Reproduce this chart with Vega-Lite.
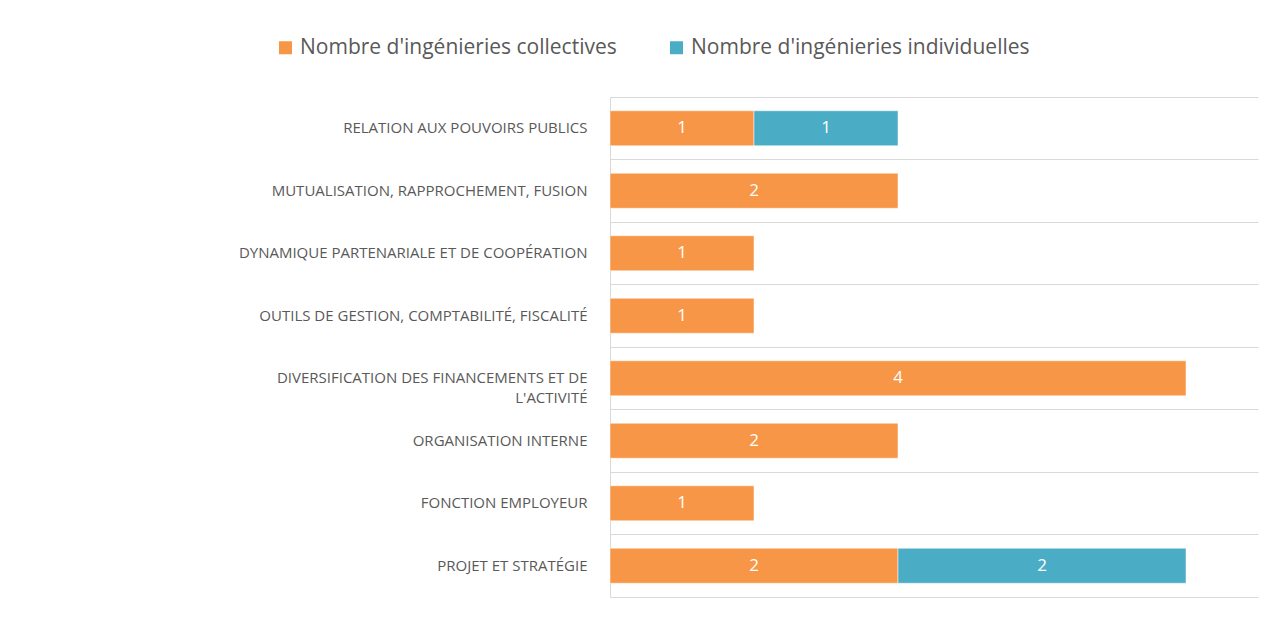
{
  "$schema": "https://vega.github.io/schema/vega-lite/v6.json",
  "autosize": {"type": "none"},
  "padding": {"left": 610, "top": 97, "right": 17, "bottom": 21},
  "width": 648,
  "height": 500,
  "background": "white",
  "config": {
    "view": {"stroke": null},
    "font": "Open Sans"
  },
  "data": {
    "values": [
      {"cat": "RELATION AUX POUVOIRS PUBLICS", "series": "Nombre d'ingénieries collectives", "ord": 1, "v": 1},
      {"cat": "RELATION AUX POUVOIRS PUBLICS", "series": "Nombre d'ingénieries individuelles", "ord": 2, "v": 1},
      {"cat": "MUTUALISATION, RAPPROCHEMENT, FUSION", "series": "Nombre d'ingénieries collectives", "ord": 1, "v": 2},
      {"cat": "DYNAMIQUE PARTENARIALE ET DE COOPÉRATION", "series": "Nombre d'ingénieries collectives", "ord": 1, "v": 1},
      {"cat": "OUTILS DE GESTION, COMPTABILITÉ, FISCALITÉ", "series": "Nombre d'ingénieries collectives", "ord": 1, "v": 1},
      {"cat": "DIVERSIFICATION DES FINANCEMENTS ET DE L'ACTIVITÉ", "series": "Nombre d'ingénieries collectives", "ord": 1, "v": 4},
      {"cat": "ORGANISATION INTERNE", "series": "Nombre d'ingénieries collectives", "ord": 1, "v": 2},
      {"cat": "FONCTION EMPLOYEUR", "series": "Nombre d'ingénieries collectives", "ord": 1, "v": 1},
      {"cat": "PROJET ET STRATÉGIE", "series": "Nombre d'ingénieries collectives", "ord": 1, "v": 2},
      {"cat": "PROJET ET STRATÉGIE", "series": "Nombre d'ingénieries individuelles", "ord": 2, "v": 2}
    ]
  },
  "encoding": {
    "y": {
      "field": "cat",
      "type": "nominal",
      "sort": null,
      "scale": {"paddingInner": 0, "paddingOuter": 0},
      "axis": {
        "title": null,
        "ticks": false,
        "domain": true,
        "domainColor": "#d9d9d9",
        "domainWidth": 1,
        "grid": true,
        "gridColor": "#d9d9d9",
        "gridWidth": 1,
        "bandPosition": 0,
        "labelPadding": 23,
        "labelLimit": 0,
        "labelFontSize": 15,
        "labelColor": "#595959",
        "labelFont": "Open Sans",
        "labelExpr": "datum.label == \"DIVERSIFICATION DES FINANCEMENTS ET DE L'ACTIVITÉ\" ? ['DIVERSIFICATION DES FINANCEMENTS ET DE', \"L'ACTIVITÉ\"] : datum.label",
        "labelLineHeight": 20
      }
    }
  },
  "layer": [
    {
      "mark": {"type": "bar", "stroke": "white", "strokeWidth": 0.5, "height": {"band": 0.56}},
      "encoding": {
        "x": {
          "field": "v",
          "type": "quantitative",
          "stack": "zero",
          "scale": {"domain": [0, 4.5], "nice": false},
          "axis": {
            "title": null,
            "labels": false,
            "ticks": false,
            "grid": false,
            "domain": true,
            "domainColor": "#d9d9d9",
            "domainWidth": 1
          }
        },
        "order": {"field": "ord"},
        "color": {
          "field": "series",
          "type": "nominal",
          "scale": {
            "domain": ["Nombre d'ingénieries collectives", "Nombre d'ingénieries individuelles"],
            "range": ["#F79646", "#4BACC6"]
          },
          "legend": {
            "title": null,
            "orient": "none",
            "direction": "horizontal",
            "legendX": -335,
            "legendY": -60,
            "padding": 0,
            "symbolType": "square",
            "symbolSize": 169,
            "symbolStrokeWidth": 0,
            "labelFont": "Open Sans",
            "labelFontSize": 21,
            "labelColor": "#595959",
            "labelOffset": 4,
            "columnPadding": 49,
            "labelLimit": 0
          }
        }
      }
    },
    {
      "transform": [
        {"stack": "v", "groupby": ["cat"], "sort": [{"field": "ord"}], "as": ["x0", "x1"]},
        {"fold": ["x0", "x1"], "as": ["edge", "pos"]},
        {"aggregate": [{"op": "mean", "field": "pos", "as": "mid"}], "groupby": ["cat", "series", "v"]}
      ],
      "mark": {"type": "text", "color": "white", "fontSize": 17, "font": "Open Sans", "baseline": "middle"},
      "encoding": {
        "x": {"field": "mid", "type": "quantitative"},
        "text": {"field": "v", "type": "quantitative"}
      }
    }
  ]
}
